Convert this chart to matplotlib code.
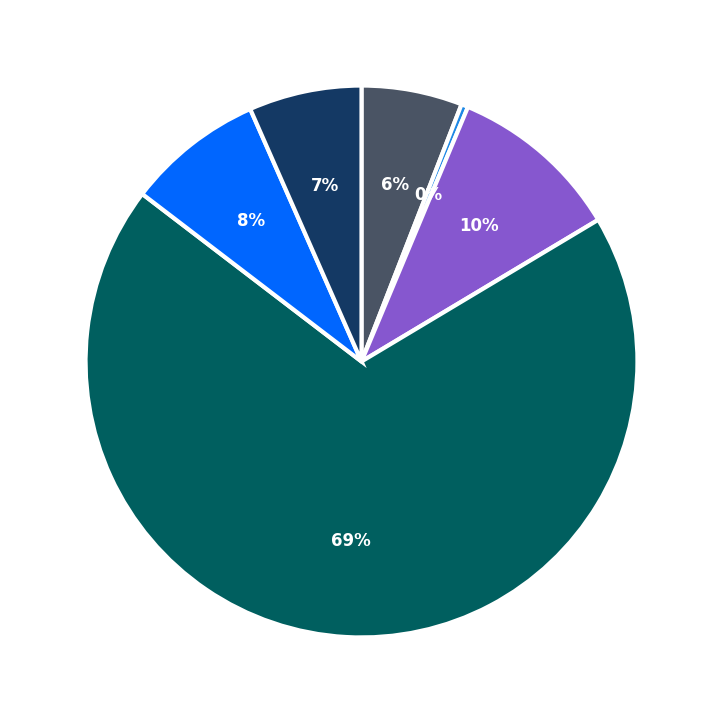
import matplotlib
matplotlib.use("Agg")
import matplotlib.pyplot as plt

labels = ["A", "B", "C", "D", "E", "F"]
values = [5.9, 0.4, 10.1, 68.9, 8.0, 6.6]
colors = ["#4a5464", "#1e88e5", "#8657cf", "#005f5f", "#0066ff", "#143964"]

fig = plt.figure(figsize=(7.23, 7.23), dpi=100)
ax = fig.add_axes([0, 0, 1, 1])
wedges, texts, autotexts = ax.pie(values, colors=colors, startangle=90, counterclock=False,
       autopct="%1.0f%%", pctdistance=0.65,
       wedgeprops=dict(edgecolor="white", linewidth=3),
       textprops=dict(color="white", fontsize=12, fontweight="bold"))
ax.set_xlim(-1.31, 1.31)
ax.set_ylim(-1.31, 1.31)
ax.set_aspect("equal")
ax.axis("off")
fig.savefig("out.png", dpi=100)
